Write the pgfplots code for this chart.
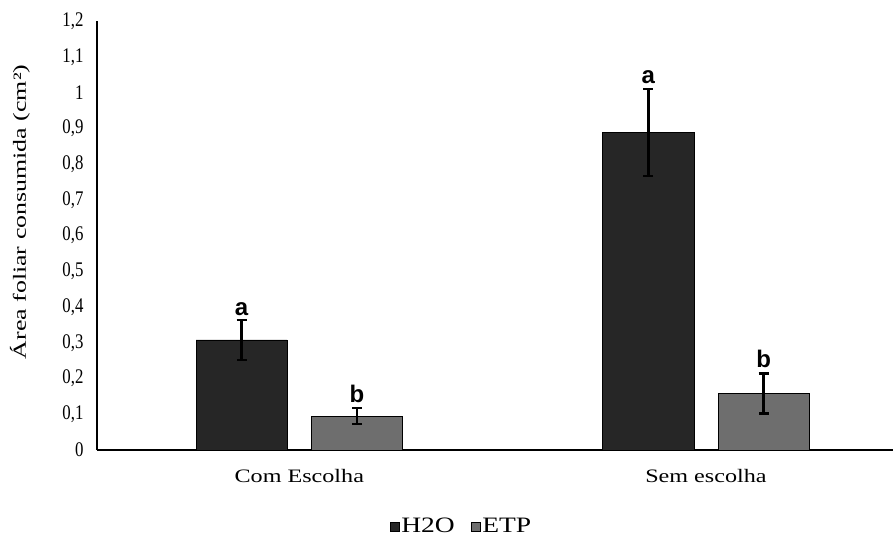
\documentclass[border=0pt]{standalone}
\usepackage{pgfplots}
\pgfplotsset{compat=1.18}
\usepackage{fontspec}
\setmainfont{Liberation Serif}
\newfontfamily\lsans{Liberation Sans}
\usetikzlibrary{calc}
\definecolor{cH}{HTML}{262626}
\definecolor{cE}{HTML}{6E6E6E}
\begin{document}
\begin{tikzpicture}
\begin{axis}[
  scale only axis, width=796bp, height=429bp,
  xmin=-0.4975, xmax=1.46, ymin=0, ymax=1.2,
  axis lines=left, axis line style={line width=2.4bp, -},
  xtick={0,1}, xticklabels={\scalebox{1.27}[1]{Com Escolha},\scalebox{1.27}[1]{Sem escolha}},
  x tick label style={font=\fontsize{19bp}{21bp}\selectfont, yshift=-16bp},
  major tick length=0pt,
  ytick={0,0.1,...,1.2},
  yticklabel={\scalebox{1.05}[1.3]{\pgfmathprintnumber{\tick}}},
  y tick label style={font=\fontsize{16bp}{18bp}\selectfont, xshift=-10bp},
  /pgf/number format/.cd, use comma, fixed, assume math mode=true, /pgfplots/.cd,
  ylabel={\scalebox{1.4}[1]{Área foliar consumida (cm²)}},
  ylabel style={font=\fontsize{18.5bp}{20bp}\selectfont, at={(axis description cs:-0.097,0.555)}, anchor=center},
  legend style={draw=none, at={(axis description cs:0.458,-0.178)}, anchor=center, legend columns=2, font=\fontsize{22bp}{24bp}\selectfont, /tikz/every even column/.append style={column sep=14bp}},
  legend cell align=left,
  legend image code/.code={\draw[#1] (0bp,-5bp) rectangle (9bp,4bp);},
  error bars/error bar style={line width=2.6bp, black},
  error bars/error mark options={rotate=90, mark size=5bp, line width=2.6bp, black},
  clip=false,
]
\addplot[ybar, bar width=0.224, bar shift=0, fill=cH, draw=black, line width=0.5bp,
  error bars/.cd, y dir=both, y explicit]
  coordinates {(-0.142,0.308) +- (0,0.056) (0.858,0.888) +- (0,0.122)};
\addlegendentry{\scalebox{1.25}[1]{H2O}}
\addplot[ybar, bar width=0.224, bar shift=0, fill=cE, draw=black, line width=0.5bp,
  error bars/.cd, y dir=both, y explicit]
  coordinates {(0.142,0.095) +- (0,0.022) (1.142,0.158) +- (0,0.056)};
\addlegendentry{\scalebox{1.25}[1]{ETP}}
\addplot[forget plot, only marks, mark=none, point meta=explicit symbolic,
  nodes near coords, nodes near coords style={anchor=south, inner sep=0pt, yshift=5bp, font=\lsans\bfseries\fontsize{24bp}{26bp}\selectfont, text=black}]
  coordinates {(-0.142,0.361) [a] (0.142,0.117) [b] (0.858,1.010) [a] (1.142,0.215) [b]};
\end{axis}
\pgfresetboundingbox
\path[use as bounding box] ($(current axis.south west)+(-97bp,-92bp)$) rectangle ($(current axis.north east)+(2bp,21bp)$);
\end{tikzpicture}
\end{document}
